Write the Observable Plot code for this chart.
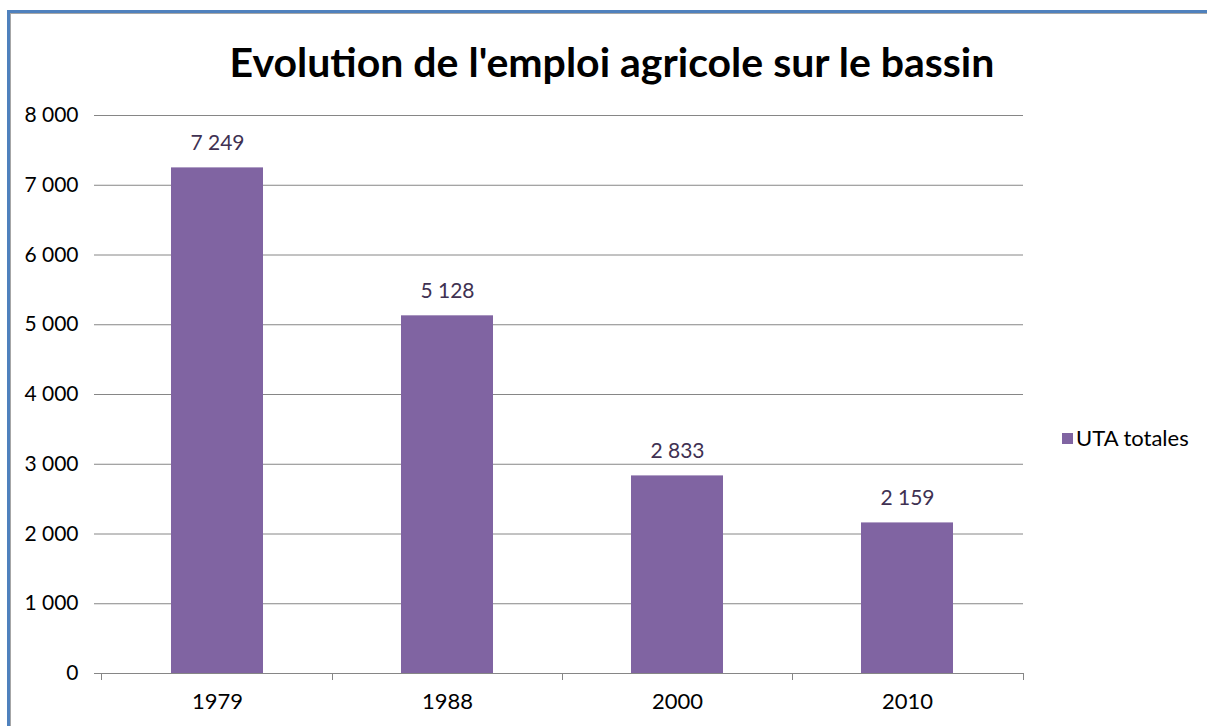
<!DOCTYPE html>
<html>
<head>
<meta charset="utf-8">
<script src="https://cdn.jsdelivr.net/npm/d3@7"></script>
<script src="https://cdn.jsdelivr.net/npm/@observablehq/plot@0.6"></script>
<style>
  html, body { margin: 0; padding: 0; background: #fff; overflow: hidden; }
  body { width: 1207px; height: 726px; position: relative; font-family: Lato, "Open Sans", sans-serif; }
  #frame { position: absolute; left: 7px; top: 10px; width: 1300px; height: 800px;
           border: 3px solid #4f81bd; box-shadow: inset 0 0 0 1px #a6a6a6; box-sizing: border-box; }
  #chart { position: absolute; left: 0; top: 0; }
  #title { position: absolute; left: 0; width: 1224px; top: 37px; text-align: center;
           font-family: Lato, sans-serif; font-weight: bold; font-size: 41px; color: #000; line-height: 49px; }
  #legend { position: absolute; left: 1062px; top: 425px; font-size: 22px; color: #000; line-height: 26px;
            display: flex; align-items: center; font-family: Lato, sans-serif; }
  #legend .sw { width: 11px; height: 11px; background: #8064a2; margin-right: 3px; }
</style>
</head>
<body>
<div id="frame"></div>
<div id="chart"></div>
<div id="title">Evolution de l'emploi agricole sur le bassin</div>
<div id="legend"><span class="sw"></span><span>UTA totales</span></div>
<script>
const years = ["1979", "1988", "2000", "2010"];
const utaTotales = [7249, 5128, 2833, 2159];
const yTicks = [0, 1000, 2000, 3000, 4000, 5000, 6000, 7000, 8000];
const seriesName = "UTA totales";

const data = years.map((y, i) => ({year: y, value: utaTotales[i]}));
const fmt = d => d3.format(",")(d).replace(/,/g, " ");

const W = 1207, H = 726;
const mL = 101, mR = 184, mT = 115, mB = 53;

function boundaryTicks(index, scales, values, dims) {
  const x = scales.x;
  const bw = typeof x.bandwidth === "function" ? x.bandwidth() : x.bandwidth;
  const centers = years.map(y => x(y) + bw / 2);
  const bounds = [dims.marginLeft];
  for (let i = 0; i < centers.length - 1; i++) bounds.push((centers[i] + centers[i + 1]) / 2);
  bounds.push(dims.width - dims.marginRight);
  const y0 = dims.height - dims.marginBottom;
  const g = d3.create("svg:g").attr("stroke", "#868686").attr("stroke-width", 1);
  g.selectAll("line").data(bounds).join("line")
    .attr("x1", d => Math.round(d) + 0.5).attr("x2", d => Math.round(d) + 0.5)
    .attr("y1", y0).attr("y2", y0 + 7);
  return g.node();
}

const chart = Plot.plot({
  width: W, height: H,
  marginLeft: mL, marginRight: mR, marginTop: mT, marginBottom: mB,
  style: {fontFamily: "Lato, 'Open Sans', sans-serif", fontSize: "21px", background: "transparent", color: "#000"},
  x: {type: "band", domain: years, paddingInner: 0.6, paddingOuter: 0.3, label: null},
  y: {domain: [0, 8000], label: null},
  marks: [
    Plot.gridY(yTicks, {stroke: "#868686", strokeOpacity: 1}),
    Plot.axisY(yTicks, {tickFormat: fmt, tickSize: 7, tickPadding: 16, stroke: "#868686", fontSize: 21, fill: "#000"}),
    Plot.axisX({tickSize: 0, tickPadding: 20, fontSize: 22, fill: "#000"}),
    Plot.barY(data, {x: "year", y: "value", fill: "#8064a2"}),
    Plot.ruleX([0], {frameAnchor: "left", stroke: "#868686"}),
    Plot.ruleY([0], {stroke: "#868686"}),
    boundaryTicks,
    Plot.text(data, {x: "year", y: "value", text: d => fmt(d.value), dy: -25, fill: "#403152", fontSize: 21})
  ]
});
document.getElementById("chart").appendChild(chart);
</script>
</body>
</html>
